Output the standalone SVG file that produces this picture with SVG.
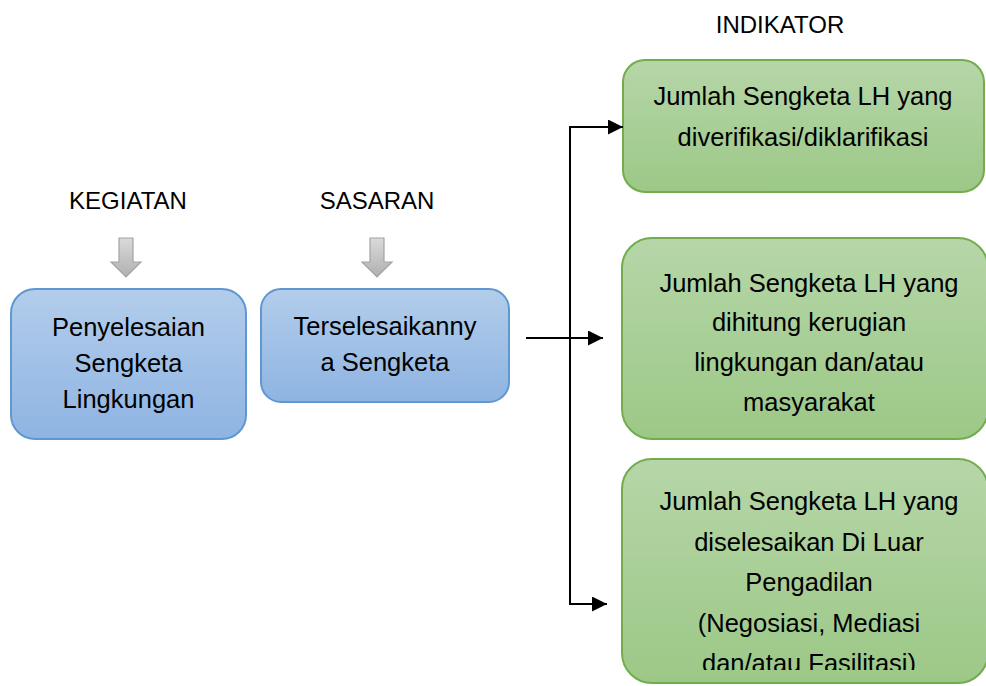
<svg xmlns="http://www.w3.org/2000/svg" width="986" height="686" viewBox="0 0 986 686">
  <defs>
    <linearGradient id="gBlue" x1="0" y1="0" x2="0" y2="1">
      <stop offset="0" stop-color="#B3CDEB"/>
      <stop offset="1" stop-color="#8EB4E2"/>
    </linearGradient>
    <linearGradient id="gGreen" x1="0" y1="0" x2="0" y2="1">
      <stop offset="0" stop-color="#B6D6A8"/>
      <stop offset="1" stop-color="#9CC887"/>
    </linearGradient>
    <linearGradient id="gGray" x1="0" y1="0" x2="0" y2="1">
      <stop offset="0" stop-color="#DADADA"/>
      <stop offset="1" stop-color="#B0B0B0"/>
    </linearGradient>
    <marker id="arr" viewBox="0 0 10 10" refX="10" refY="5" markerWidth="15" markerHeight="15" markerUnits="userSpaceOnUse" orient="auto">
      <path d="M0,0 L10,5 L0,10 Z" fill="#000"/>
    </marker>
    <clipPath id="clipLast">
      <rect x="600" y="450" width="386" height="220"/>
    </clipPath>
  </defs>
  <style>
    text { font-family: "Liberation Sans", Arial, sans-serif; fill: #000; }
    .hdr { font-size: 24px; text-anchor: middle; }
    .body { font-size: 25.5px; text-anchor: middle; }
    .blue { fill: url(#gBlue); stroke: #5F97D0; stroke-width: 2; }
    .green { fill: url(#gGreen); stroke: #72AC4D; stroke-width: 2; }
    .gray { fill: url(#gGray); stroke: #A3A3A3; stroke-width: 1.2; }
    .conn { fill: none; stroke: #000; stroke-width: 2; }
  </style>
  <rect width="986" height="686" fill="#fff"/>

  <g id="hdr-kegiatan"><text class="hdr" x="128" y="209">KEGIATAN</text></g>
  <g id="hdr-sasaran"><text class="hdr" x="377" y="209">SASARAN</text></g>
  <g id="hdr-indikator"><text class="hdr" x="780" y="33">INDIKATOR</text></g>

  <g id="arrow-kegiatan">
    <path class="gray" d="M119,238 H133 V262 H141 L126,277 L111,262 H119 Z"/>
  </g>
  <g id="arrow-sasaran">
    <path class="gray" d="M370,238 H384 V262 H392 L377,277 L362,262 H370 Z"/>
  </g>

  <g id="node-kegiatan">
    <rect class="blue" x="11" y="289" width="235" height="150" rx="24"/>
    <text class="body" x="128.5" y="336">Penyelesaian</text>
    <text class="body" x="128.5" y="372">Sengketa</text>
    <text class="body" x="128.5" y="408">Lingkungan</text>
  </g>

  <g id="node-sasaran">
    <rect class="blue" x="261" y="289" width="248" height="113" rx="20"/>
    <text class="body" x="385" y="335">Terselesaikanny</text>
    <text class="body" x="385" y="371">a Sengketa</text>
  </g>

  <g id="node-ind1">
    <rect class="green" x="623" y="60" width="361" height="132" rx="22"/>
    <text class="body" x="803" y="105">Jumlah Sengketa LH yang</text>
    <text class="body" x="803" y="146">diverifikasi/diklarifikasi</text>
  </g>

  <g id="node-ind2">
    <rect class="green" x="622" y="238" width="366" height="201" rx="30"/>
    <text class="body" x="809" y="292">Jumlah Sengketa LH yang</text>
    <text class="body" x="809" y="331">dihitung kerugian</text>
    <text class="body" x="809" y="371">lingkungan dan/atau</text>
    <text class="body" x="809" y="411">masyarakat</text>
  </g>

  <g id="node-ind3">
    <rect class="green" x="622" y="459" width="366" height="224" rx="30"/>
    <text class="body" x="809" y="510">Jumlah Sengketa LH yang</text>
    <text class="body" x="809" y="551">diselesaikan Di Luar</text>
    <text class="body" x="809" y="591">Pengadilan</text>
    <text class="body" x="809" y="632">(Negosiasi, Mediasi</text>
    <text class="body" x="809" y="672" clip-path="url(#clipLast)">dan/atau Fasilitasi)</text>
  </g>

  <g id="connectors">
    <line class="conn" x1="526" y1="338" x2="603" y2="338" marker-end="url(#arr)"/>
    <line class="conn" x1="570" y1="126" x2="570" y2="605"/>
    <line class="conn" x1="569" y1="127" x2="623" y2="127" marker-end="url(#arr)"/>
    <line class="conn" x1="569" y1="604" x2="607" y2="604" marker-end="url(#arr)"/>
  </g>
</svg>
